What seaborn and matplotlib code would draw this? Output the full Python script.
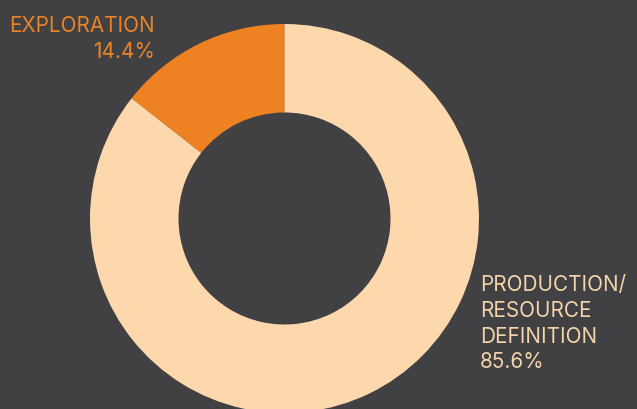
import matplotlib
matplotlib.use("Agg")
import matplotlib.pyplot as plt
import seaborn as sns

# Share of spending by stage
categories = ["EXPLORATION", "PRODUCTION/\nRESOURCE\nDEFINITION"]
shares = [14.4, 85.6]
slice_colors = ["#EE8222", "#FDD8AD"]
label_colors = ["#EA8428", "#F4D4AA"]

BG = "#414042"

sns.set_theme(style="dark", rc={
    "figure.facecolor": BG,
    "axes.facecolor": BG,
    "savefig.facecolor": BG,
})
plt.rcParams["font.family"] = ["Inter", "DejaVu Sans"]

W, H = 637, 410
fig = plt.figure(figsize=(W / 100, H / 100), dpi=100)
ax = fig.add_axes([0, 0, 1, 1])

palette = sns.color_palette(slice_colors)
center = (284.5, H - 219.5)
radius = 194.5
ax.pie(shares, colors=palette, startangle=90, counterclock=True,
       center=center, radius=radius,
       wedgeprops=dict(width=radius - 106, linewidth=0, edgecolor=BG))

ax.set_xlim(0, W)
ax.set_ylim(0, H)
ax.set_aspect("equal", adjustable="box")
ax.set_axis_off()

step = 25.8
fs = 14.9

# Exploration label, right-aligned above the upper-left of the ring
lines0 = categories[0].split("\n") + [f"{shares[0]:.1f}%"]
for i, line in enumerate(lines0):
    ax.text(155, H - 32 - i * step, line, ha="right", va="baseline",
            color=label_colors[0], fontsize=fs)

# Production label, left-aligned at the lower right of the ring
lines1 = categories[1].split("\n") + [f"{shares[1]:.1f}%"]
for i, line in enumerate(lines1):
    ax.text(480, H - 291 - i * step, line, ha="left", va="baseline",
            color=label_colors[1], fontsize=fs)

fig.savefig("out.png", dpi=100, facecolor=BG)
